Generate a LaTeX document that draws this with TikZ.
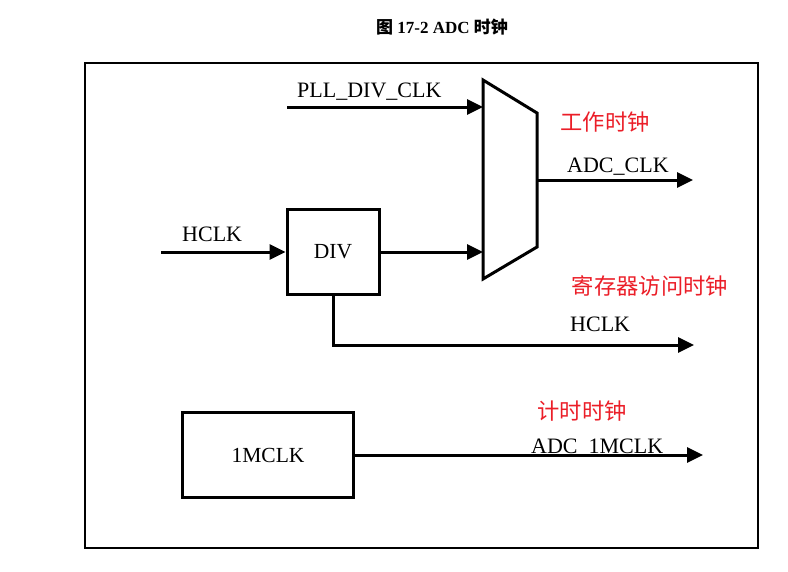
\documentclass[tikz,border=0pt]{standalone}
\usepackage{fontspec}
\setmainfont{Liberation Serif}
\newfontfamily\cjk{Noto Sans CJK SC}
\usetikzlibrary{arrows.meta}
\definecolor{redlbl}{RGB}{235,30,40}
\tikzset{
  wire/.style={line width=3pt},
  arr/.style={wire,-{Triangle[length=16pt,width=15pt]}},
  blockbox/.style={draw,line width=3pt,rectangle,inner sep=0pt,font=\fontsize{21.5}{24}\selectfont},
  sig/.style={font=\fontsize{22}{24}\selectfont,inner sep=0pt},
  redtxt/.style={font=\cjk\fontsize{22.3}{24}\selectfont,text=redlbl,inner sep=0pt},
}
\begin{document}
\begin{tikzpicture}[x=1pt,y=-1pt]
\useasboundingbox (0,0) rectangle (788,571);
% title
\node[inner sep=0pt] (title) at (442,27) {\fontsize{17}{20}\selectfont\bfseries{\cjk 图} 17-2 ADC {\cjk 时钟}};
% frame
\draw[line width=1.2pt] (85,63) rectangle (758,548);
% mux
\coordinate (mTL) at (483,80);
\coordinate (mTR) at (537,113);
\coordinate (mBR) at (537,247);
\coordinate (mBL) at (483,279);
\draw[wire,line join=miter] (mTL) -- (mTR) -- (mBR) -- (mBL) -- cycle;
% DIV box
\node[blockbox,minimum width=92pt,minimum height=85pt] (div) at (333,252) {DIV};
% 1MCLK box
\node[blockbox,minimum width=171pt,minimum height=85pt] (onem) at (268,455) {1MCLK};
% coordinates
\coordinate (pllin) at (287,107);
\coordinate (muxin1) at (483,107);
\coordinate (muxin2) at (483,252);
\coordinate (muxout) at (537,180);
\coordinate (adcout) at (693,180);
\coordinate (hclkin) at (161,252);
\coordinate (divtap) at (333,345);
\coordinate (hclkout) at (694,345);
\coordinate (onemout) at (703,455);
% connectors
\draw[arr] (pllin) -- (muxin1);
\draw[arr] (muxout) -- (adcout);
\draw[arr] (hclkin) -- (div.west);
\draw[arr] (div.east) -- (muxin2);
\draw[arr] (div.south) -- (divtap) -- (hclkout);
\draw[arr] (onem.east) -- (onemout);
% labels
\node[sig,anchor=base west] (lpll) at (297,97) {PLL\_DIV\_CLK};
\node[sig,anchor=base west] (ladc) at (567,172) {ADC\_CLK};
\node[sig,anchor=base west] (lhin) at (182,241) {HCLK};
\node[sig,anchor=base west] (lhout) at (570,331) {HCLK};
\node[sig,anchor=base west] (l1m) at (531,453) {ADC\_1MCLK};
\node[redtxt] (r1) at (605,122) {工作时钟};
\node[redtxt] (r2) at (650,286) {寄存器访问时钟};
\node[redtxt] (r3) at (582,411) {计时时钟};
\end{tikzpicture}
\end{document}
